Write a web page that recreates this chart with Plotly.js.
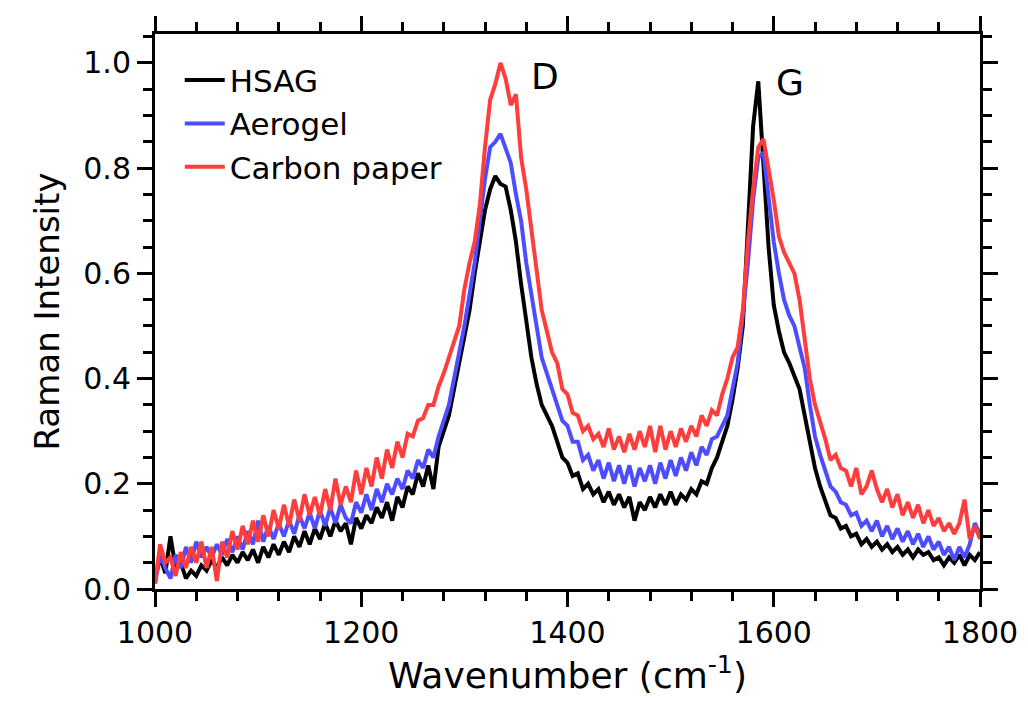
<!DOCTYPE html>
<html>
<head>
<meta charset="utf-8">
<script src="https://cdn.plot.ly/plotly-3.0.1.min.js"></script>
<style>html,body{margin:0;padding:0;background:#fff;}#chart{width:1028px;height:714px;}</style>
</head>
<body>
<div id="chart"></div>
<script>
// Wavenumber grid start/step (cm^-1), values read every 5 cm^-1 from 1000 to 1800
const waveStart = 1000;
const waveStep = 5;

const hsag = [
  0.02,0.06,0.03,0.10,0.04,0.05,0.02,0.035,0.025,0.045,
  0.035,0.055,0.04,0.06,0.045,0.065,0.05,0.07,0.055,0.075,
  0.05,0.08,0.06,0.085,0.065,0.09,0.07,0.10,0.08,0.11,
  0.085,0.115,0.095,0.125,0.10,0.13,0.11,0.125,0.085,0.135,
  0.115,0.14,0.125,0.155,0.135,0.165,0.13,0.175,0.155,0.195,
  0.18,0.22,0.195,0.235,0.19,0.27,0.30,0.33,0.38,0.43,
  0.48,0.53,0.60,0.66,0.72,0.76,0.785,0.77,0.765,0.72,
  0.66,0.58,0.51,0.44,0.39,0.35,0.33,0.31,0.28,0.25,
  0.24,0.215,0.22,0.19,0.2,0.18,0.19,0.165,0.185,0.16,
  0.18,0.155,0.175,0.13,0.165,0.15,0.175,0.155,0.18,0.16,
  0.185,0.16,0.18,0.17,0.19,0.18,0.205,0.2,0.23,0.25,
  0.28,0.31,0.36,0.42,0.50,0.70,0.88,0.965,0.82,0.65,
  0.54,0.49,0.45,0.43,0.405,0.38,0.33,0.28,0.23,0.195,
  0.165,0.14,0.135,0.115,0.12,0.1,0.105,0.085,0.095,0.08,
  0.09,0.075,0.085,0.07,0.08,0.065,0.075,0.06,0.075,0.065,
  0.07,0.055,0.06,0.045,0.06,0.05,0.065,0.045,0.065,0.055,
  0.07
];

const aerogel = [
  0.01,0.065,0.04,0.02,0.065,0.04,0.08,0.05,0.09,0.06,
  0.08,0.06,0.085,0.065,0.095,0.07,0.1,0.075,0.11,0.085,
  0.13,0.09,0.12,0.095,0.125,0.1,0.13,0.105,0.14,0.115,
  0.145,0.115,0.15,0.12,0.155,0.125,0.16,0.135,0.125,0.165,
  0.145,0.18,0.15,0.19,0.165,0.2,0.18,0.21,0.19,0.225,
  0.21,0.245,0.23,0.265,0.25,0.29,0.32,0.35,0.40,0.45,
  0.50,0.56,0.62,0.70,0.78,0.84,0.85,0.865,0.84,0.81,
  0.75,0.70,0.62,0.56,0.49,0.44,0.41,0.38,0.35,0.32,
  0.31,0.28,0.28,0.245,0.255,0.225,0.245,0.21,0.24,0.205,
  0.235,0.2,0.235,0.195,0.23,0.205,0.235,0.2,0.24,0.21,
  0.245,0.215,0.25,0.225,0.26,0.235,0.27,0.255,0.285,0.29,
  0.31,0.33,0.38,0.43,0.52,0.62,0.74,0.82,0.83,0.74,
  0.66,0.6,0.55,0.52,0.50,0.46,0.42,0.35,0.29,0.255,
  0.225,0.195,0.185,0.165,0.16,0.14,0.145,0.12,0.13,0.11,
  0.13,0.1,0.12,0.095,0.115,0.09,0.11,0.085,0.105,0.08,
  0.1,0.075,0.09,0.065,0.08,0.055,0.08,0.06,0.085,0.125,
  0.105
];

const carbonPaper = [
  0.01,0.085,0.05,0.06,0.025,0.07,0.04,0.08,0.05,0.09,
  0.04,0.08,0.015,0.09,0.06,0.11,0.075,0.12,0.085,0.13,
  0.09,0.14,0.1,0.15,0.115,0.16,0.12,0.17,0.13,0.18,
  0.14,0.175,0.14,0.19,0.15,0.21,0.16,0.195,0.165,0.225,
  0.18,0.23,0.195,0.25,0.21,0.265,0.23,0.28,0.25,0.295,
  0.29,0.32,0.325,0.35,0.35,0.385,0.41,0.44,0.47,0.50,
  0.57,0.62,0.66,0.73,0.84,0.93,0.96,1.0,0.97,0.92,
  0.94,0.82,0.76,0.68,0.60,0.53,0.49,0.45,0.43,0.38,
  0.37,0.335,0.33,0.3,0.31,0.285,0.295,0.27,0.305,0.265,
  0.29,0.26,0.295,0.265,0.3,0.27,0.31,0.26,0.31,0.265,
  0.3,0.27,0.305,0.28,0.31,0.29,0.33,0.31,0.34,0.33,
  0.37,0.4,0.44,0.46,0.53,0.66,0.76,0.84,0.855,0.8,
  0.74,0.67,0.64,0.62,0.6,0.55,0.47,0.4,0.35,0.32,
  0.285,0.245,0.255,0.23,0.225,0.195,0.23,0.18,0.195,0.225,
  0.19,0.165,0.19,0.155,0.18,0.14,0.165,0.135,0.16,0.125,
  0.15,0.12,0.135,0.11,0.125,0.105,0.125,0.17,0.095,0.12,
  0.095
];

const seriesNames = ["HSAG", "Aerogel", "Carbon paper"];
const xTickVals = [1000, 1200, 1400, 1600, 1800];
const yTickVals = [0.0, 0.2, 0.4, 0.6, 0.8, 1.0];
const peakLabels = ["D", "G"];
const peakLabelX = [1378, 1616];
const peakLabelY = [0.975, 0.962];

const wavenumber = hsag.map((_, i) => waveStart + i * waveStep);

const colors = ["#000000", "#4d4dff", "#ff3d3d"];
const allSeries = [hsag, aerogel, carbonPaper];

const FONT = "DejaVu Sans, Arial, sans-serif";

const traces = allSeries.map((ys, k) => ({
  type: "scatter",
  mode: "lines",
  x: wavenumber,
  y: ys,
  name: seriesNames[k],
  line: {color: colors[k], width: 4, shape: "linear"}
}));

const axisCommon = {
  showgrid: false,
  zeroline: false,
  showline: true,
  linecolor: "#000",
  linewidth: 3,
  mirror: "allticks",
  ticks: "outside",
  tickcolor: "#000",
  tickwidth: 3,
  ticklen: 15,
  tickfont: {family: FONT, size: 30, color: "#000"}
};

const layout = {
  width: 1028,
  height: 714,
  margin: {l: 155, r: 48, t: 34, b: 125},
  paper_bgcolor: "#fff",
  plot_bgcolor: "#fff",
  showlegend: true,
  legend: {
    x: 0.03, y: 0.965, xanchor: "left", yanchor: "top",
    bgcolor: "rgba(0,0,0,0)",
    itemwidth: 40,
    font: {family: FONT, size: 31, color: "#000"},
    tracegroupgap: 0
  },
  xaxis: Object.assign({}, axisCommon, {
    range: [1000, 1800],
    tickvals: xTickVals,
    ticktext: xTickVals.map(String),
    minor: {dtick: 40, tick0: 1000, ticks: "outside", ticklen: 9, tickwidth: 3, tickcolor: "#000", showgrid: false},
    title: {text: "Wavenumber (cm<sup>-1</sup>)", font: {family: FONT, size: 36, color: "#000"}, standoff: 14}
  }),
  yaxis: Object.assign({}, axisCommon, {
    range: [0, 1.055],
    tickvals: yTickVals,
    ticktext: yTickVals.map(v => v.toFixed(1)),
    minor: {dtick: 0.05, tick0: 0, ticks: "outside", ticklen: 9, tickwidth: 3, tickcolor: "#000", showgrid: false},
    title: {text: "Raman Intensity", font: {family: FONT, size: 34, color: "#000"}, standoff: 14}
  }),
  annotations: peakLabels.map((t, i) => ({
    x: peakLabelX[i], y: peakLabelY[i], xref: "x", yref: "y",
    text: t, showarrow: false,
    font: {family: FONT, size: 36, color: "#000"}
  }))
};

Plotly.newPlot("chart", traces, layout, {staticPlot: true, displayModeBar: false});
</script>
</body>
</html>
